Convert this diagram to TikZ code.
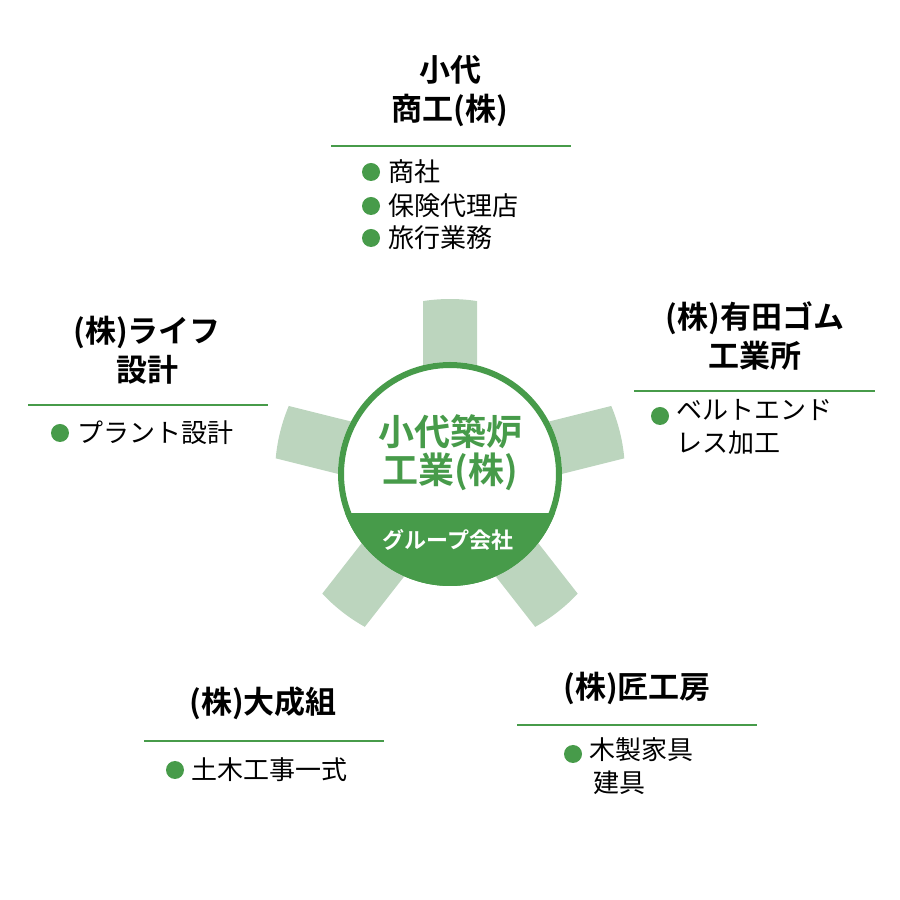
\documentclass[tikz,border=0pt]{standalone}
\usepackage{fontspec}
\setmainfont{Noto Sans CJK JP}
\newfontfamily\jpb{Noto Sans CJK JP Bold}
\definecolor{gr}{HTML}{479B4A}
\definecolor{lg}{HTML}{BCD5BE}
\begin{document}
\begin{tikzpicture}[x=1pt,y=1pt,
 head/.style={font=\jpb\fontsize{31}{39}\selectfont,align=center,inner sep=0},
 item/.style={font=\fontsize{26}{33}\selectfont,anchor=west,inner sep=0,align=left},
 dotc/.style={circle,fill=gr,minimum size=18,inner sep=0},
 rule/.style={gr,line width=2}]
\useasboundingbox (0,0) rectangle (900,900);
\coordinate (c) at (450,426);
% spokes
\foreach \a in {90,14,166,-52,-128}{
 \fill[lg,rotate around={\a:(c)}] ([shift={(0,-27)}]c) -- ([shift={(172.9,-27)}]c) arc[start angle=-8.87,end angle=8.87,radius=175] -- ([shift={(0,27)}]c) -- cycle;
}
\fill[white] (c) circle[radius=112];
\begin{scope}
\clip (c) circle[radius=112];
\fill[gr] (330,300) rectangle (570,387);
\end{scope}
\draw[gr,line width=6] (c) circle[radius=109];
\node[font=\jpb\fontsize{36}{38}\selectfont,text=gr,align=center] (ctr) at (450,447) {小代築炉\\工業(株)};
\node[font=\jpb\fontsize{22}{24}\selectfont,text=white] (grp) at (448,360) {グループ会社};
% top
\node[head] (t) at (450,809) {小代\\商工(株)};
\draw[rule] (331,754) coordinate (t1) -- (571,754) coordinate (t2);
\node[dotc] (td1) at (371,728) {}; \node[item] (ti1) at (388,728) {商社};
\node[dotc] (td2) at (371,694) {}; \node[item] (ti2) at (388,694) {保険代理店};
\node[dotc] (td3) at (371,662) {}; \node[item] (ti3) at (388,662) {旅行業務};
% left
\node[head] (l) at (147,550) {(株)ライフ\\設計};
\draw[rule] (28,495) coordinate (l1) -- (268,495) coordinate (l2);
\node[dotc] (ld1) at (60,467) {}; \node[item] (li1) at (77,467) {プラント設計};
% right
\node[head] (r) at (755,564) {(株)有田ゴム\\工業所};
\draw[rule] (634,509) coordinate (r1) -- (875,509) coordinate (r2);
\node[dotc] (rd1) at (660,484) {}; \node[item,anchor=north west] (ri1) at (676,501) {ベルトエンド\\レス加工};
% bottom left
\node[head] (bl) at (263,197) {(株)大成組};
\draw[rule] (144,159) coordinate (bl1) -- (384,159) coordinate (bl2);
\node[dotc] (bld) at (175,130) {}; \node[item] (bli) at (191,130) {土木工事一式};
% bottom right
\node[head] (br) at (637,212) {(株)匠工房};
\draw[rule] (517,175) coordinate (br1) -- (757,175) coordinate (br2);
\node[dotc] (brd) at (573,146) {}; \node[item,anchor=north west] (bri) at (589,163) {木製家具\\\,建具};
\end{tikzpicture}
\end{document}
